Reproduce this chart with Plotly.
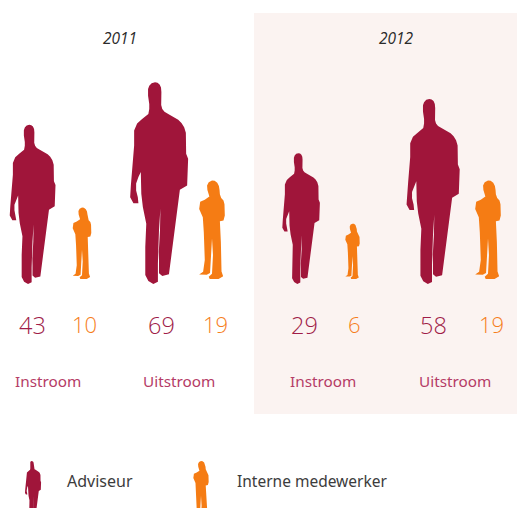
import math
import plotly.graph_objects as go

# Values per year, in the order Instroom, Uitstroom
years = ["2011", "2012"]
flows = ["Instroom", "Uitstroom"]
adviseur = [43, 69, 29, 58]
intern = [10, 19, 6, 19]
series_names = ["Adviseur", "Interne medewerker"]

WINE = "#a0153a"
ORANGE = "#f57c14"
WINE_NUM = "#a01c48"
ORANGE_NUM = "#f67e1c"
LABEL = "#b53c66"
PANEL = "#fbf3f1"
INK = "#3c3c3c"

# Figure outlines, drawn as head-to-foot polygons in a local grid
MAN = [
    (155, 81), (157.5, 81.6), (159.6, 83.4), (161, 86.5), (161.4, 91), (160.9, 98), (161.2, 104),
    (162.3, 108), (164.5, 110.8), (168.3, 113), (173, 115.6), (178.3, 118.7), (181.6, 122),
    (184.3, 126.3), (186, 132), (186.3, 153), (188.3, 158), (187.3, 185), (180, 189.3),
    (178.2, 203.3), (175, 233.3), (171, 260), (169, 274.3), (162.3, 276), (159, 273.3),
    (159, 260), (158.8, 251.7), (160, 230), (160.4, 208.3), (159, 230), (158.2, 250), (157.9, 263.3),
    (157.9, 281.7), (153.3, 284), (148.3, 281), (145.2, 275), (145.2, 246.7), (146.2, 223.3),
    (142.8, 206.7), (141.2, 193.3), (140.7, 171.3), (138.3, 176.3), (136, 183), (136, 190),
    (137.7, 196.7), (138.3, 202.7), (133.3, 202.7), (130, 196.7), (130.7, 185), (131.7, 173),
    (134.0, 144.7), (134.0, 129.7), (137, 122.6), (142, 118), (148.3, 113), (149.2, 108),
    (149.2, 103), (148, 94.7), (148, 88), (149.2, 84.6), (151.6, 82),
]
WOMAN = [
    (52, 13), (60, 14), (68, 20), (73, 30), (75, 42), (76, 55), (80, 66), (87, 74), (90, 85),
    (91, 120), (87, 135), (76, 137), (79, 200), (81, 290), (86, 305), (72, 313), (45, 313),
    (42, 306), (52, 297), (55, 240), (52, 190), (46, 295), (36, 300), (13, 299), (25, 291),
    (30, 255), (27, 170), (24, 125), (13, 100), (16, 78), (30, 72), (44, 62), (38, 42), (37, 28),
    (42, 18),
]


def figure_trace(outline, centre, foot, height, colour, name, axis_x):
    ys = [p[1] for p in outline]
    top, bottom = min(ys), max(ys)
    span = bottom - top
    xs = [centre + (p[0] - axis_x) / span * height for p in outline]
    yy = [foot - (bottom - p[1]) / span * height for p in outline]
    return go.Scatter(
        x=xs + xs[:1], y=yy + yy[:1], mode="lines", fill="toself", fillcolor=colour,
        line=dict(width=0, color=colour), name=name, hoverinfo="name", showlegend=False,
    )


# Area encodes the value, so height follows the square root
MAN_SCALE = 24.3
WOMAN_SCALE = 22.6

man_centres = [32.5, 159, 301, 433]
woman_centres = [82, 212, 352.5, 488]
man_number_x = [32.5, 161, 304, 433]
woman_number_x = [84, 215, 354, 491]
flow_label_x = [48, 179, 323, 454.5]
year_label_x = [120, 396]

fig = go.Figure()
for v, cx in zip(adviseur, man_centres):
    fig.add_trace(figure_trace(MAN, cx, 284, MAN_SCALE * math.sqrt(v), WINE, series_names[0], 159))
for v, cx in zip(intern, woman_centres):
    fig.add_trace(figure_trace(WOMAN, cx, 279, WOMAN_SCALE * math.sqrt(v), ORANGE, series_names[1], 52))

# Legend figures run off the bottom edge of the page
fig.add_trace(figure_trace(MAN, 33, 517, 56, WINE, series_names[0], 159))
fig.add_trace(figure_trace(WOMAN, 201, 520, 59, ORANGE, series_names[1], 52))


def label(x, y, text, size, colour, family="Noto Sans", anchor="center", **font_extra):
    fig.add_annotation(
        x=x, y=y, text=text, showarrow=False, xanchor=anchor, yanchor="middle",
        font=dict(size=size, color=colour, family=family, **font_extra),
    )


for x, year in zip(year_label_x, years):
    label(x, 38, year, 15.5, "#2b2b2b", family="Open Sans", style="italic")
for x, v in zip(man_number_x, adviseur):
    label(x, 325, str(v), 23.5, WINE_NUM, family="Open Sans", weight=300)
for x, v in zip(woman_number_x, intern):
    label(x, 324, str(v), 22, ORANGE_NUM, family="Open Sans", weight=300)
for x, name in zip(flow_label_x, flows * 2):
    label(x, 381, name, 15.3, LABEL)
label(65, 481, series_names[0], 16, INK, anchor="left")
label(235, 481, series_names[1], 15.5, INK, anchor="left")

fig.update_layout(
    width=517, height=508, margin=dict(l=0, r=0, t=0, b=0),
    paper_bgcolor="white", plot_bgcolor="white", showlegend=False,
    xaxis=dict(range=[0, 517], visible=False, fixedrange=True),
    yaxis=dict(range=[508, 0], visible=False, fixedrange=True),
    shapes=[dict(type="rect", xref="x", yref="y", x0=254, x1=517, y0=13, y1=414,
                 fillcolor=PANEL, line=dict(width=0), layer="below")],
)
fig.write_html("out.html", config={"displayModeBar": False})
